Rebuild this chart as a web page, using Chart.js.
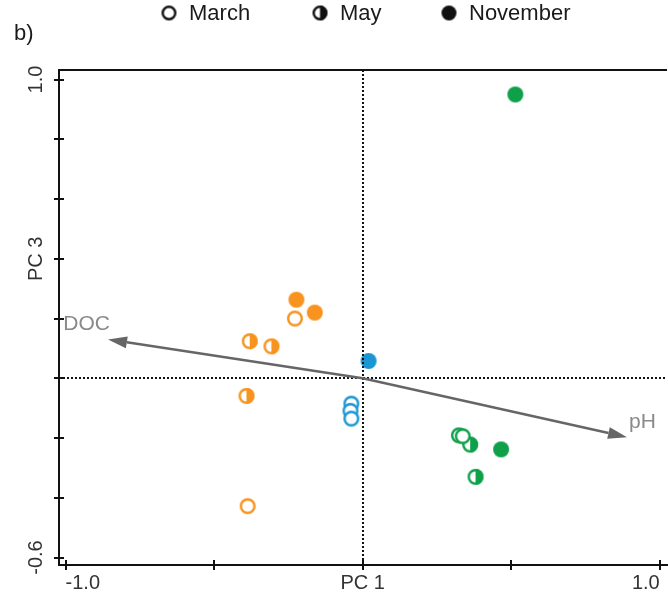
<!DOCTYPE html>
<html>
<head>
<meta charset="utf-8">
<script src="https://cdn.jsdelivr.net/npm/chart.js@4.4.0/dist/chart.umd.min.js"></script>
<style>
html, body { margin: 0; padding: 0; background: #fff; overflow: hidden; }
#wrap { width: 668px; height: 594px; position: relative; overflow: hidden; }
</style>
</head>
<body>
<div id="wrap"><canvas id="myChart" width="676" height="594"></canvas></div>
<script>
// PCA scores as [PC 1, PC 3] pairs, one list per site colour and month
const orangeMarch = [[-0.228, 0.200], [-0.387, -0.428]];
const orangeMay = [[-0.380, 0.124], [-0.307, 0.107], [-0.391, -0.059]];
const orangeNov = [[-0.223, 0.263], [-0.161, 0.220]];
const blueMarch = [[-0.038, -0.085], [-0.041, -0.109], [-0.038, -0.135]];
const blueNov = [[0.020, 0.058]];
const greenMarch = [[0.324, -0.191], [0.337, -0.194]];
const greenMay = [[0.362, -0.222], [0.380, -0.330]];
const greenNov = [[0.514, 0.950], [0.466, -0.238]];

// variable loadings (arrows)
const loadingNames = ['DOC', 'pH'];
const loadingX = [-0.857, 0.890];
const loadingY = [0.130, -0.197];

const months = ['March', 'May', 'November'];
const xTicks = [-1.0, -0.5, 0, 0.5, 1.0];
const xTickLabels = ['-1.0', '', 'PC 1', '', '1.0'];
const yTicks = [-0.6, -0.4, -0.2, 0, 0.2, 0.4, 0.6, 0.8, 1.0];
const yTickLabels = ['-0.6', '', '', '', '', 'PC 3', '', '', '1.0'];

var ORANGE = '#f7931e';
var BLUE = '#1b96d4';
var GREEN = '#0fa04a';
var FONT = '"Liberation Sans", Arial, sans-serif';

// Function to build a marker image: open, half or filled circle
function makeMarker(color, kind, r) {
    var c = document.createElement('canvas');
    c.width = 2 * r + 4;
    c.height = 2 * r + 4;
    var g = c.getContext('2d');
    var m = c.width / 2;
    if (kind === 'filled') {
        g.beginPath();
        g.arc(m, m, r, 0, Math.PI * 2);
        g.fillStyle = color;
        g.fill();
        return c;
    }
    g.beginPath();
    g.arc(m, m, r - 1.2, 0, Math.PI * 2);
    g.fillStyle = '#fff';
    g.fill();
    if (kind === 'half') {
        g.beginPath();
        g.arc(m, m, r, -Math.PI / 2, Math.PI / 2);
        g.closePath();
        g.fillStyle = color;
        g.fill();
    }
    g.beginPath();
    g.arc(m, m, r - 1.2, 0, Math.PI * 2);
    g.lineWidth = 2.4;
    g.strokeStyle = color;
    g.stroke();
    return c;
}

var kinds = ['open', 'half', 'filled'];
var groups = [
    [orangeMarch, ORANGE, 'open'],
    [orangeMay, ORANGE, 'half'],
    [orangeNov, ORANGE, 'filled'],
    [blueMarch, BLUE, 'open'],
    [blueNov, BLUE, 'filled'],
    [greenMarch, GREEN, 'open'],
    [greenMay, GREEN, 'half'],
    [greenNov, GREEN, 'filled']
];

var datasets = groups.map(function(g) {
    return {
        data: g[0].map(function(p) { return { x: p[0], y: p[1] }; }),
        pointStyle: makeMarker(g[1], g[2], 8),
        radius: 8,
        hoverRadius: 8
    };
});

// Extra drawing: zero lines, loading arrows, box top, inner ticks, labels, legend
var decorPlugin = {
    id: 'decor',
    afterDatasetsDraw: function(chart) {
        var ctx = chart.ctx, xs = chart.scales.x, ys = chart.scales.y, a = chart.chartArea;
        var x0 = xs.getPixelForValue(0), y0 = ys.getPixelForValue(0);
        ctx.save();
        ctx.strokeStyle = '#111';
        ctx.lineWidth = 2;
        ctx.setLineDash([2, 2]);
        ctx.beginPath();
        ctx.moveTo(Math.round(x0), a.top);
        ctx.lineTo(Math.round(x0), a.bottom);
        ctx.moveTo(a.left, Math.round(y0));
        ctx.lineTo(a.right, Math.round(y0));
        ctx.stroke();
        ctx.setLineDash([]);

        // arrows
        for (var i = 0; i < loadingNames.length; i++) {
            var tx = xs.getPixelForValue(loadingX[i]);
            var ty = ys.getPixelForValue(loadingY[i]);
            var ang = Math.atan2(ty - y0, tx - x0);
            var len = 19, hw = 6;
            var bx = tx - len * Math.cos(ang), by = ty - len * Math.sin(ang);
            ctx.strokeStyle = '#666';
            ctx.lineWidth = 2.5;
            ctx.beginPath();
            ctx.moveTo(x0, y0);
            ctx.lineTo(bx, by);
            ctx.stroke();
            ctx.fillStyle = '#666';
            ctx.beginPath();
            ctx.moveTo(tx, ty);
            ctx.lineTo(bx + hw * Math.sin(ang), by - hw * Math.cos(ang));
            ctx.lineTo(bx - hw * Math.sin(ang), by + hw * Math.cos(ang));
            ctx.closePath();
            ctx.fill();
            ctx.fillStyle = '#8a8a8a';
            ctx.font = '21px ' + FONT;
            ctx.textBaseline = 'alphabetic';
            ctx.textAlign = tx < x0 ? 'right' : 'left';
            ctx.fillText(loadingNames[i], tx + 2, ty - 9);
        }
        ctx.restore();
    },
    afterDraw: function(chart) {
        var ctx = chart.ctx, xs = chart.scales.x, ys = chart.scales.y, a = chart.chartArea;
        ctx.save();
        // top of the box
        ctx.strokeStyle = '#111';
        ctx.lineWidth = 2;
        ctx.beginPath();
        ctx.moveTo(a.left - 1, a.top);
        ctx.lineTo(a.right, a.top);
        ctx.stroke();
        // inner halves of the tick marks
        ctx.beginPath();
        yTicks.forEach(function(v) {
            var py = Math.round(ys.getPixelForValue(v));
            ctx.moveTo(a.left, py);
            ctx.lineTo(a.left + 5, py);
        });
        xTicks.forEach(function(v) {
            var px = Math.round(xs.getPixelForValue(v));
            ctx.moveTo(px, a.bottom);
            ctx.lineTo(px, a.bottom - 5);
        });
        ctx.stroke();

        // y tick labels, rotated
        ctx.fillStyle = '#333';
        ctx.font = '20px ' + FONT;
        ctx.textAlign = 'center';
        ctx.textBaseline = 'middle';
        yTicks.forEach(function(v, i) {
            if (!yTickLabels[i]) return;
            ctx.save();
            ctx.translate(a.left - 23, ys.getPixelForValue(v));
            ctx.rotate(-Math.PI / 2);
            ctx.fillText(yTickLabels[i], 0, 0);
            ctx.restore();
        });

        // panel letter
        ctx.fillStyle = '#1a1a1a';
        ctx.font = '22px ' + FONT;
        ctx.textAlign = 'left';
        ctx.textBaseline = 'alphabetic';
        ctx.fillText('b)', 14, 40);

        // legend
        var legendX = [169, 320, 449];
        months.forEach(function(m, i) {
            var img = makeMarker('#111', kinds[i], 7.5);
            ctx.drawImage(img, legendX[i] - img.width / 2, 13 - img.height / 2);
            ctx.fillStyle = '#1a1a1a';
            ctx.fillText(m, legendX[i] + 20, 20);
        });
        ctx.restore();
    }
};

var ctx = document.getElementById('myChart').getContext('2d');
var myChart = new Chart(ctx, {
    type: 'scatter',
    data: { datasets: datasets },
    options: {
        responsive: false,
        animation: false,
        layout: { padding: { top: 70, left: 0, right: 0, bottom: 0 } },
        plugins: {
            legend: { display: false },
            tooltip: { enabled: false }
        },
        scales: {
            x: {
                type: 'linear',
                min: -1.022,
                max: 1.0245,
                afterBuildTicks: function(scale) {
                    scale.ticks = xTicks.map(function(v) { return { value: v }; });
                },
                afterFit: function(scale) { scale.height = 29; },
                ticks: {
                    align: 'inner',
                    maxRotation: 0,
                    autoSkip: false,
                    padding: 1,
                    color: '#333',
                    font: { family: FONT, size: 20 },
                    callback: function(value, index) { return xTickLabels[index]; }
                },
                grid: { drawOnChartArea: false, drawTicks: true, tickLength: 5, color: '#111', lineWidth: 2 },
                border: { display: true, color: '#111', width: 2 }
            },
            y: {
                type: 'linear',
                min: -0.625,
                max: 1.032,
                afterBuildTicks: function(scale) {
                    scale.ticks = yTicks.map(function(v) { return { value: v }; });
                },
                afterFit: function(scale) { scale.width = 59; },
                ticks: { display: false },
                grid: { drawOnChartArea: false, drawTicks: true, tickLength: 5, color: '#111', lineWidth: 2 },
                border: { display: true, color: '#111', width: 2 }
            }
        }
    },
    plugins: [decorPlugin]
});
</script>
</body>
</html>
